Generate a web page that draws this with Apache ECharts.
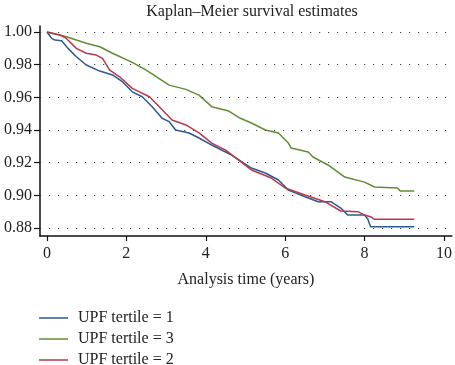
<!DOCTYPE html>
<html>
<head>
<meta charset="utf-8">
<script src="https://cdn.jsdelivr.net/npm/echarts@6/dist/echarts.min.js"></script>
<style>
  html, body { margin: 0; padding: 0; background: #fff; }
  #main { width: 455px; height: 365px; }
</style>
</head>
<body>
<div id="main"></div>
<script>
// Kaplan-Meier curves: [time (years), survival]
var tertile1 = [
    [0, 1.000], [0.12, 0.9961], [0.2, 0.9951], [0.37, 0.9947], [0.53, 0.9900],
    [0.74, 0.9849], [0.99, 0.9798], [1.33, 0.9761], [1.65, 0.9737], [1.9, 0.9696],
    [2.15, 0.9634], [2.4, 0.9604], [2.65, 0.9543], [2.9, 0.9472], [3.08, 0.9451],
    [3.24, 0.9400], [3.58, 0.9382], [3.83, 0.9351], [4.15, 0.9308], [4.65, 0.9247],
    [5.15, 0.9167], [5.5, 0.9137], [5.83, 0.9094], [6.08, 0.9032], [6.5, 0.8991],
    [6.83, 0.8961], [7.15, 0.8961], [7.4, 0.8922], [7.58, 0.8879], [8.0, 0.8879],
    [8.08, 0.8855], [8.15, 0.8808], [9.25, 0.8808]
];
var tertile3 = [
    [0, 1.000], [0.49, 0.9971], [0.99, 0.9931], [1.33, 0.9910], [1.65, 0.9870],
    [2.15, 0.9814], [2.5, 0.9767], [3.08, 0.9675], [3.5, 0.9649], [3.83, 0.9614],
    [4.15, 0.9543], [4.58, 0.9516], [4.87, 0.9472], [5.15, 0.9443], [5.5, 0.9400],
    [5.83, 0.9382], [6.08, 0.9320], [6.15, 0.9290], [6.58, 0.9265], [6.7, 0.9235],
    [7.08, 0.9186], [7.5, 0.9112], [8.0, 0.9081], [8.25, 0.9051], [8.83, 0.9045],
    [8.9, 0.9026], [9.25, 0.9026]
];
var tertile2 = [
    [0, 1.000], [0.33, 0.9982], [0.49, 0.9961], [0.74, 0.9900], [0.99, 0.9870],
    [1.24, 0.9859], [1.4, 0.9839], [1.58, 0.9767], [1.83, 0.9726], [2.15, 0.9655],
    [2.58, 0.9604], [2.83, 0.9543], [3.15, 0.9461], [3.5, 0.9431], [3.83, 0.9382],
    [4.15, 0.9320], [4.5, 0.9277], [4.83, 0.9216], [5.15, 0.9155], [5.65, 0.9106],
    [6.0, 0.9045], [6.5, 0.9002], [7.0, 0.8961], [7.4, 0.8904], [7.83, 0.8900],
    [8.0, 0.8879], [8.15, 0.8869], [8.25, 0.8853], [9.25, 0.8853]
];

var xTicks = [0, 2, 4, 6, 8, 10];
var yTicks = [0.88, 0.90, 0.92, 0.94, 0.96, 0.98, 1.00];
var seriesNames = ['UPF tertile = 1', 'UPF tertile = 3', 'UPF tertile = 2'];

var font = 'Liberation Serif';

var myChart = echarts.init(document.getElementById('main'));

function curve(name, data, color, withGrid) {
    var s = {
        name: name,
        type: 'line',
        data: data,
        symbol: 'none',
        showSymbol: false,
        lineStyle: { color: color, width: 1.5 },
        itemStyle: { color: color },
        animation: false
    };
    if (withGrid) {
        // dotted horizontal gridlines at the y ticks
        s.markLine = {
            silent: true,
            symbol: 'none',
            label: { show: false },
            lineStyle: { color: '#444', width: 1.2, type: [1.2, 7.8] },
            data: yTicks.map(function (v) { return { yAxis: v }; })
        };
    }
    return s;
}

var option = {
    backgroundColor: '#fff',
    title: {
        text: 'Kaplan–Meier survival estimates',
        left: 247,
        textAlign: 'center',
        top: -1,
        textStyle: { fontFamily: font, fontSize: 16, fontWeight: 'normal', color: '#222' }
    },
    grid: { left: 40, right: 0, top: 26, bottom: 129 },
    legend: {
        orient: 'vertical',
        left: 39,
        top: 310,
        height: 60,
        padding: 0,
        itemWidth: 29,
        itemHeight: 1.5,
        itemGap: 5,
        icon: 'rect',
        data: seriesNames,
        textStyle: { fontFamily: font, fontSize: 16, lineHeight: 15, color: '#222', padding: [0, 0, 0, 5] }
    },
    xAxis: {
        type: 'value',
        min: -0.175,
        max: 10.2,
        name: 'Analysis time (years)',
        nameLocation: 'middle',
        nameGap: 36,
        nameTextStyle: { fontFamily: font, fontSize: 16, color: '#222' },
        axisLine: { show: true, onZero: false, lineStyle: { color: '#111', width: 1.5 } },
        axisTick: { show: true, length: 5, customValues: xTicks, lineStyle: { color: '#111', width: 1.2 } },
        axisLabel: { customValues: xTicks, margin: 10, fontFamily: font, fontSize: 16, color: '#222' },
        splitLine: { show: false }
    },
    yAxis: {
        type: 'value',
        min: 0.8751,
        max: 1.0037,
        axisLine: { show: true, onZero: false, lineStyle: { color: '#111', width: 1.5 } },
        axisTick: { show: true, length: 6, customValues: yTicks, lineStyle: { color: '#111', width: 1.2 } },
        axisLabel: {
            customValues: yTicks,
            margin: 8,
            fontFamily: font,
            fontSize: 16,
            color: '#222',
            formatter: function (v) { return v.toFixed(2); }
        },
        splitLine: { show: false }
    },
    series: [
        curve(seriesNames[0], tertile1, '#2b5a91', true),
        curve(seriesNames[1], tertile3, '#628c33', false),
        curve(seriesNames[2], tertile2, '#b53a4a', false)
    ]
};

myChart.setOption(option);
</script>
</body>
</html>
